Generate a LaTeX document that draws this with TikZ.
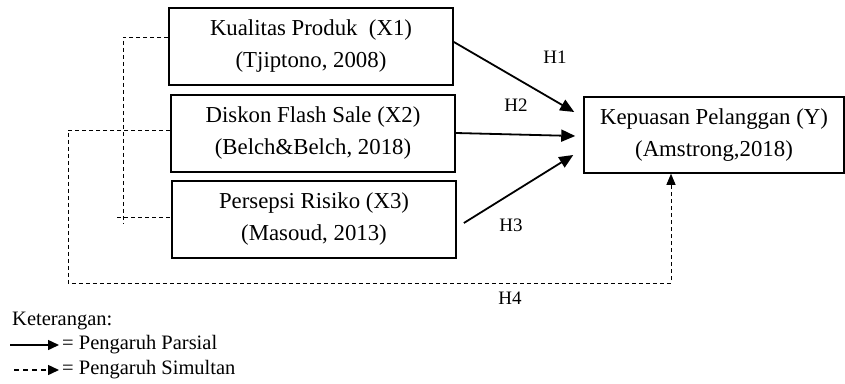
\documentclass[tikz,border=0pt]{standalone}
\usepackage{fontspec}
\setmainfont{Liberation Serif}
\usetikzlibrary{arrows.meta,positioning}

\begin{document}
\begin{tikzpicture}[
  x=1pt, y=-1pt,
  varbox/.style={rectangle, draw=black, line width=1.8pt, minimum width=284pt,
    minimum height=77pt, inner sep=0pt, align=center,
    font=\fontsize{22.8}{32}\selectfont},
  hlabel/.style={font=\fontsize{19}{22}\selectfont},
  legend/.style={anchor=west, inner sep=0pt, font=\fontsize{20.5}{24}\selectfont},
  arr/.style={-{Triangle[length=14pt,width=12pt]}, line width=1.8pt},
  simul/.style={line width=0.9pt, dash pattern=on 4pt off 3pt},
  legarr/.style={-{Triangle[length=11pt,width=10pt]}, line width=1.5pt},
]
  \useasboundingbox (0,0) rectangle (845,383);

  \node[varbox] (x1) at (311,46.5) {Kualitas Produk~ (X1)\\(Tjiptono, 2008)};
  \node[varbox] (x2) at (313,133.5) {Diskon Flash Sale (X2)\\(Belch\&Belch, 2018)};
  \node[varbox] (x3) at (314,219.5) {Persepsi Risiko (X3)\\(Masoud, 2013)};
  \node[varbox, line width=1.5pt, minimum width=260pt, minimum height=76pt] (y)
    at (714,135) {Kepuasan Pelanggan (Y)\\(Amstrong,2018)};

  % partial effects
  \draw[arr] ([yshift=4.5pt]x1.east) -- ([xshift=-9pt,yshift=23pt]y.west);
  \draw[arr] ([yshift=0.5pt]x2.east) -- ([xshift=-8pt,yshift=-1pt]y.west);
  \draw[arr] ([xshift=7pt,yshift=-3.5pt]x3.east) -- ([xshift=-10pt,yshift=-20pt]y.west);

  \node[hlabel] (h1) at (555,57) {H1};
  \node[hlabel] (h2) at (516,105) {H2};
  \node[hlabel] (h3) at (511,225) {H3};
  \node[hlabel] (h4) at (510,298) {H4};

  % simultaneous effect
  \draw[simul] ([yshift=9.5pt]x1.west) -| (123,224);
  \draw[simul] (117,217) -- ([yshift=2.5pt]x3.west);
  \draw[simul, -{Triangle[length=11pt,width=9pt]}] ([yshift=3.5pt]x2.west) -| (68,283)
    -| ([xshift=-43pt]y.south);

  % legend
  \node[legend] (ket) at (12,321) {Keterangan:};
  \node[legend] (parsial) at (62,345) {= Pengaruh Parsial};
  \node[legend] (simultan) at (62,370) {= Pengaruh Simultan};
  \coordinate (pa) at (10,345);
  \coordinate (sa) at (14,370);
  \draw[legarr] (pa) -- ([xshift=-3pt]parsial.west);
  \draw[legarr, dash pattern=on 5pt off 4pt] (sa) -- ([xshift=-3pt]simultan.west);
\end{tikzpicture}
\end{document}
